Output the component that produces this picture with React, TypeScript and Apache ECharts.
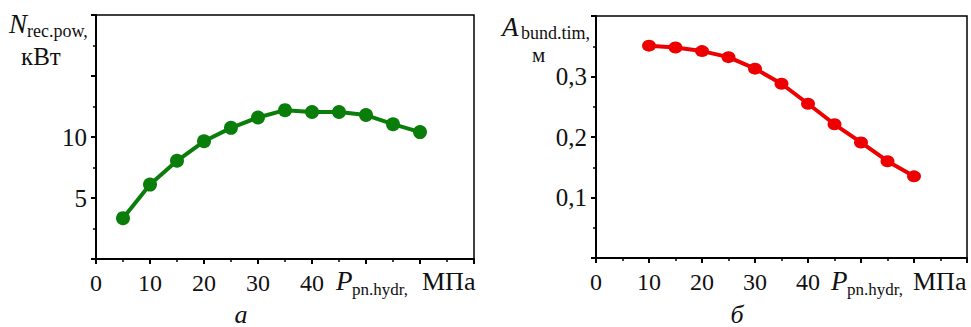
import React, { useEffect, useRef } from "react";
import * as echarts from "echarts";

const pressures = [5, 10, 15, 20, 25, 30, 35, 40, 45, 50, 55, 60];
const powerValues = [3.35, 6.1, 8.05, 9.65, 10.75, 11.6, 12.2, 12.05, 12.05, 11.8, 11.05, 10.4];

const pressuresB = [10, 15, 20, 25, 30, 35, 40, 45, 50, 55, 60];
const amplitudeValues = [0.351, 0.348, 0.342, 0.332, 0.313, 0.288, 0.255, 0.221, 0.191, 0.16, 0.135];

const xTickLabels = ["0", "10", "20", "30", "40"];
const yTickLabelsA = ["5", "10"];
const yTickLabelsB = ["0,1", "0,2", "0,3"];

const SERIF = "Liberation Serif";

export default function App() {
  const ref = useRef<HTMLDivElement>(null);

  useEffect(() => {
    document.body.style.margin = "0";
    if (!ref.current) return;
    const chart = echarts.init(ref.current, null, { renderer: "svg" });

    const xAxisBase = (gridIndex: number) => ({
      gridIndex,
      type: "value",
      min: 0,
      max: 70,
      interval: 10,
      axisLine: { show: true, onZero: false, lineStyle: { color: "#000", width: 2 } },
      axisTick: { show: true, length: 5, lineStyle: { color: "#000", width: 2 } },
      minorTick: { show: true, splitNumber: 2, length: 3, lineStyle: { color: "#000", width: 1.5 } },
      splitLine: { show: false },
      axisLabel: {
        fontFamily: SERIF,
        fontSize: 24,
        color: "#111",
        margin: 12,
        formatter: (v: number) => {
          const s = String(v);
          return xTickLabels.includes(s) ? s : "";
        },
      },
    });

    const yAxisBase = (gridIndex: number) => ({
      gridIndex,
      type: "value",
      axisLine: { show: true, lineStyle: { color: "#000", width: 2 } },
      axisTick: { show: true, length: 5, lineStyle: { color: "#000", width: 2 } },
      minorTick: { show: true, splitNumber: 2, length: 3, lineStyle: { color: "#000", width: 1.5 } },
      splitLine: { show: false },
    });

    const txt = (x: number, y: number, text: string, size: number, italic = false, extra: any = {}) => ({
      type: "text",
      x,
      y,
      style: {
        text,
        fontFamily: SERIF,
        fontSize: size,
        fontStyle: italic ? "italic" : "normal",
        fill: "#111",
        verticalAlign: "bottom",
        ...extra,
      },
    });

    const option: any = {
      animation: false,
      grid: [
        { left: 96, top: 15, width: 378, height: 244, show: true, borderColor: "#000", borderWidth: 1.5 },
        { left: 596, top: 16, width: 371, height: 242, show: true, borderColor: "#000", borderWidth: 1.5 },
      ],
      xAxis: [xAxisBase(0), xAxisBase(1)],
      yAxis: [
        {
          ...yAxisBase(0),
          min: 0,
          max: 20,
          interval: 5,
          axisLabel: {
            fontFamily: SERIF,
            fontSize: 25,
            color: "#111",
            margin: 9,
            formatter: (v: number) => {
              const s = String(v);
              return yTickLabelsA.includes(s) ? s : "";
            },
          },
        },
        {
          ...yAxisBase(1),
          min: 0,
          max: 0.4,
          interval: 0.1,
          axisLabel: {
            fontFamily: SERIF,
            fontSize: 25,
            color: "#111",
            margin: 9,
            formatter: (v: number) => {
              const s = (Math.round(v * 10) / 10).toFixed(1).replace(".", ",");
              return yTickLabelsB.includes(s) ? s : "";
            },
          },
        },
      ],
      series: [
        {
          type: "line",
          xAxisIndex: 0,
          yAxisIndex: 0,
          data: pressures.map((p, i) => [p, powerValues[i]]),
          symbol: "circle",
          symbolSize: 14,
          lineStyle: { color: "#0a7d0a", width: 4 },
          itemStyle: { color: "#0a7d0a" },
        },
        {
          type: "line",
          xAxisIndex: 1,
          yAxisIndex: 1,
          data: pressuresB.map((p, i) => [p, amplitudeValues[i]]),
          symbol: "circle",
          symbolSize: [14, 12],
          lineStyle: { color: "#ee0000", width: 4 },
          itemStyle: { color: "#ee0000" },
        },
      ],
      graphic: [
        txt(9, 37, "N", 27, true),
        txt(27, 40, "rec.pow,", 18),
        txt(21, 69, "кВт", 25),
        txt(336, 294, "P", 27, true),
        txt(352, 298, "pn.hydr,", 17),
        txt(422, 294, "МПа", 26),
        txt(502, 40, "A", 27, true),
        txt(521, 42, "bund.tim,", 18),
        txt(532, 65, "м", 21),
        txt(831, 294, "P", 27, true),
        txt(847, 298, "pn.hydr,", 17),
        txt(913, 294, "МПа", 26),
        txt(241, 327, "а", 26, true, { align: "center" }),
        txt(737, 327, "б", 26, true, { align: "center" }),
      ],
    };

    chart.setOption(option);
    return () => chart.dispose();
  }, []);

  return <div ref={ref} style={{ width: 971, height: 327 }} />;
}
